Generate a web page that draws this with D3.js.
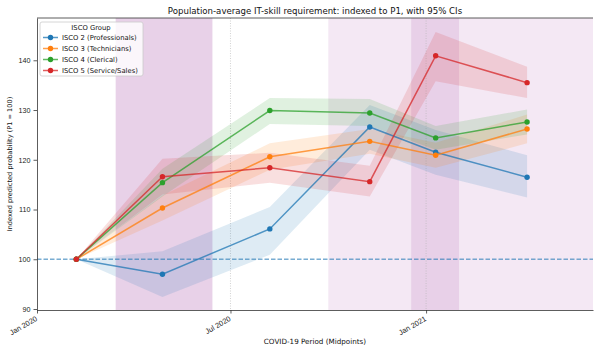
<!DOCTYPE html>
<html>
<head>
<meta charset="utf-8">
<script src="https://cdn.jsdelivr.net/npm/d3@7"></script>
<style>
  body { margin: 0; background: #fff; }
  svg { display: block; font-family: "DejaVu Sans", sans-serif; }
</style>
</head>
<body>
<div id="chart"></div>
<script>
// period midpoints
var periods = ["2020-02-07", "2020-04-28", "2020-08-07", "2020-11-09", "2021-01-10", "2021-04-06"];

var groups = ["ISCO 2 (Professionals)", "ISCO 3 (Technicians)", "ISCO 4 (Clerical)", "ISCO 5 (Service/Sales)"];
var colors = ["#1f77b4", "#ff7f0e", "#2ca02c", "#d62728"];

// indexed values (P1 = 100)
var isco2 = [100, 97.0, 106.1, 126.6, 121.5, 116.5];
var isco3 = [100, 110.3, 120.6, 123.7, 120.9, 126.2];
var isco4 = [100, 115.4, 129.9, 129.4, 124.4, 127.6];
var isco5 = [100, 116.6, 118.4, 115.6, 140.9, 135.5];

// 95% CI bounds
var isco2Lo = [100, 92.4, 100.9, 122.0, 117.0, 112.4];
var isco2Hi = [100, 101.6, 110.5, 131.0, 126.0, 120.9];
var isco3Lo = [100, 107.8, 118.0, 121.2, 118.4, 123.3];
var isco3Hi = [100, 112.8, 123.3, 126.2, 123.4, 129.1];
var isco4Lo = [100, 112.6, 127.2, 126.8, 122.0, 125.1];
var isco4Hi = [100, 118.2, 132.4, 132.2, 126.8, 130.1];
var isco5Lo = [100, 113.0, 115.4, 112.6, 135.8, 132.4];
var isco5Hi = [100, 120.2, 121.4, 118.8, 145.7, 138.7];

// shaded COVID phases
var spanStart = ["2020-03-15", "2020-10-01", "2020-12-18"];
var spanEnd   = ["2020-06-14", "2021-07-01", "2021-02-01"];
var spanAlpha = [0.18, 0.09, 0.1];

var xTicks = ["2020-01-01", "2020-07-01", "2021-01-01"];
var yTicks = [90, 100, 110, 120, 130, 140];

var parse = d3.timeParse("%Y-%m-%d");

var series = [
    { name: groups[0], v: isco2, lo: isco2Lo, hi: isco2Hi },
    { name: groups[1], v: isco3, lo: isco3Lo, hi: isco3Hi },
    { name: groups[2], v: isco4, lo: isco4Lo, hi: isco4Hi },
    { name: groups[3], v: isco5, lo: isco5Lo, hi: isco5Hi }
];

var width = 594, height = 346;
var margin = { top: 18, right: 1, bottom: 36, left: 37 };

var x = d3.scaleTime()
    .domain([parse("2020-01-01"), parse("2021-06-07")])
    .range([margin.left, width - margin.right]);

var y = d3.scaleLinear()
    .domain([89.8, 148.5])
    .range([height - margin.bottom, margin.top]);

var color = d3.scaleOrdinal().domain(groups).range(colors);

var svg = d3.select("#chart").append("svg")
    .attr("width", width)
    .attr("height", height);

svg.append("defs").append("clipPath").attr("id", "clip")
    .append("rect")
    .attr("x", margin.left).attr("y", margin.top)
    .attr("width", width - margin.left - margin.right)
    .attr("height", height - margin.top - margin.bottom);

var plot = svg.append("g").attr("clip-path", "url(#clip)");

// phase spans
plot.selectAll("rect.span")
    .data(spanStart)
    .enter().append("rect")
    .attr("class", "span")
    .attr("x", function (d) { return x(parse(d)); })
    .attr("y", margin.top)
    .attr("width", function (d, i) { return x(parse(spanEnd[i])) - x(parse(d)); })
    .attr("height", height - margin.top - margin.bottom)
    .attr("fill", "#800080")
    .attr("fill-opacity", function (d, i) { return spanAlpha[i]; });

// x grid (dotted)
plot.selectAll("line.grid")
    .data(xTicks.slice(1))
    .enter().append("line")
    .attr("x1", function (d) { return x(parse(d)); })
    .attr("x2", function (d) { return x(parse(d)); })
    .attr("y1", margin.top)
    .attr("y2", height - margin.bottom)
    .attr("stroke", "#b0b0b0")
    .attr("stroke-width", 0.8)
    .attr("stroke-dasharray", "1,1.5")
    .attr("stroke-opacity", 0.7);

// baseline at 100
plot.append("line")
    .attr("x1", margin.left).attr("x2", width)
    .attr("y1", y(100)).attr("y2", y(100))
    .attr("stroke", "#1f77b4")
    .attr("stroke-opacity", 0.6)
    .attr("stroke-width", 1.3)
    .attr("stroke-dasharray", "4.5,2");

var area = d3.area()
    .x(function (d) { return x(d.date); })
    .y0(function (d) { return y(d.lo); })
    .y1(function (d) { return y(d.hi); });

var line = d3.line()
    .x(function (d) { return x(d.date); })
    .y(function (d) { return y(d.v); });

series.forEach(function (s) {
    var pts = periods.map(function (p, i) {
        return { date: parse(p), v: s.v[i], lo: s.lo[i], hi: s.hi[i] };
    });
    plot.append("path")
        .datum(pts)
        .attr("d", area)
        .attr("fill", color(s.name))
        .attr("fill-opacity", 0.15);
    s.pts = pts;
});

series.forEach(function (s) {
    plot.append("path")
        .datum(s.pts)
        .attr("d", line)
        .attr("fill", "none")
        .attr("stroke", color(s.name))
        .attr("stroke-opacity", 0.75)
        .attr("stroke-width", 1.5);
    plot.selectAll(null)
        .data(s.pts)
        .enter().append("circle")
        .attr("cx", function (d) { return x(d.date); })
        .attr("cy", function (d) { return y(d.v); })
        .attr("r", 2.7)
        .attr("fill", color(s.name));
});

// axes
var xAxis = svg.append("g")
    .attr("transform", "translate(0," + (height - margin.bottom) + ")")
    .call(d3.axisBottom(x)
        .tickValues(xTicks.map(parse))
        .tickFormat(d3.timeFormat("%b %Y"))
        .tickSize(3.5)
        .tickSizeOuter(0));
xAxis.selectAll("text")
    .attr("font-size", 7.4)
    .attr("fill", "#222")
    .attr("text-anchor", "end")
    .attr("x", 0)
    .attr("y", 0)
    .attr("dy", "0.35em")
    .attr("transform", "translate(-1,8) rotate(-30)");

var yAxis = svg.append("g")
    .attr("transform", "translate(" + margin.left + ",0)")
    .call(d3.axisLeft(y)
        .tickValues(yTicks)
        .tickSize(3.5)
        .tickSizeOuter(0));
yAxis.selectAll("text")
    .attr("font-size", 7.2)
    .attr("fill", "#222");

svg.selectAll(".domain").attr("stroke", "#333").attr("stroke-width", 0.8);
svg.selectAll(".tick line").attr("stroke", "#333").attr("stroke-width", 0.8);

// frame (top spine)
svg.append("line")
    .attr("x1", margin.left).attr("x2", width - margin.right)
    .attr("y1", margin.top).attr("y2", margin.top)
    .attr("stroke", "#333").attr("stroke-width", 0.8);

// title and labels
svg.append("text")
    .attr("x", (margin.left + width - margin.right) / 2)
    .attr("y", 14)
    .attr("text-anchor", "middle")
    .attr("font-size", 8.6)
    .attr("fill", "#111")
    .text("Population-average IT-skill requirement: indexed to P1, with 95% CIs");

svg.append("text")
    .attr("x", (margin.left + width - margin.right) / 2)
    .attr("y", 344)
    .attr("text-anchor", "middle")
    .attr("font-size", 7.2)
    .attr("fill", "#111")
    .text("COVID-19 Period (Midpoints)");

svg.append("text")
    .attr("transform", "translate(12," + ((margin.top + height - margin.bottom) / 2) + ") rotate(-90)")
    .attr("text-anchor", "middle")
    .attr("font-size", 6.6)
    .attr("fill", "#111")
    .text("Indexed predicted probability (P1 = 100)");

// legend
var lg = svg.append("g").attr("transform", "translate(40,22)");
lg.append("rect")
    .attr("width", 103).attr("height", 54)
    .attr("rx", 2)
    .attr("fill", "#fff").attr("fill-opacity", 0.8)
    .attr("stroke", "#ccc").attr("stroke-width", 0.8);
lg.append("text")
    .attr("x", 51).attr("y", 8)
    .attr("text-anchor", "middle")
    .attr("font-size", 6.8)
    .attr("fill", "#111")
    .text("ISCO Group");
var item = lg.selectAll("g.item")
    .data(groups)
    .enter().append("g")
    .attr("transform", function (d, i) { return "translate(0," + (15.5 + i * 11) + ")"; });
item.append("line")
    .attr("x1", 3).attr("x2", 18)
    .attr("stroke", function (d) { return color(d); })
    .attr("stroke-opacity", 0.75)
    .attr("stroke-width", 1.5);
item.append("circle")
    .attr("cx", 10.5).attr("r", 2.7)
    .attr("fill", function (d) { return color(d); });
item.append("text")
    .attr("x", 22).attr("dy", "0.35em")
    .attr("font-size", 6.8)
    .attr("fill", "#111")
    .text(function (d) { return d; });
</script>
</body>
</html>
